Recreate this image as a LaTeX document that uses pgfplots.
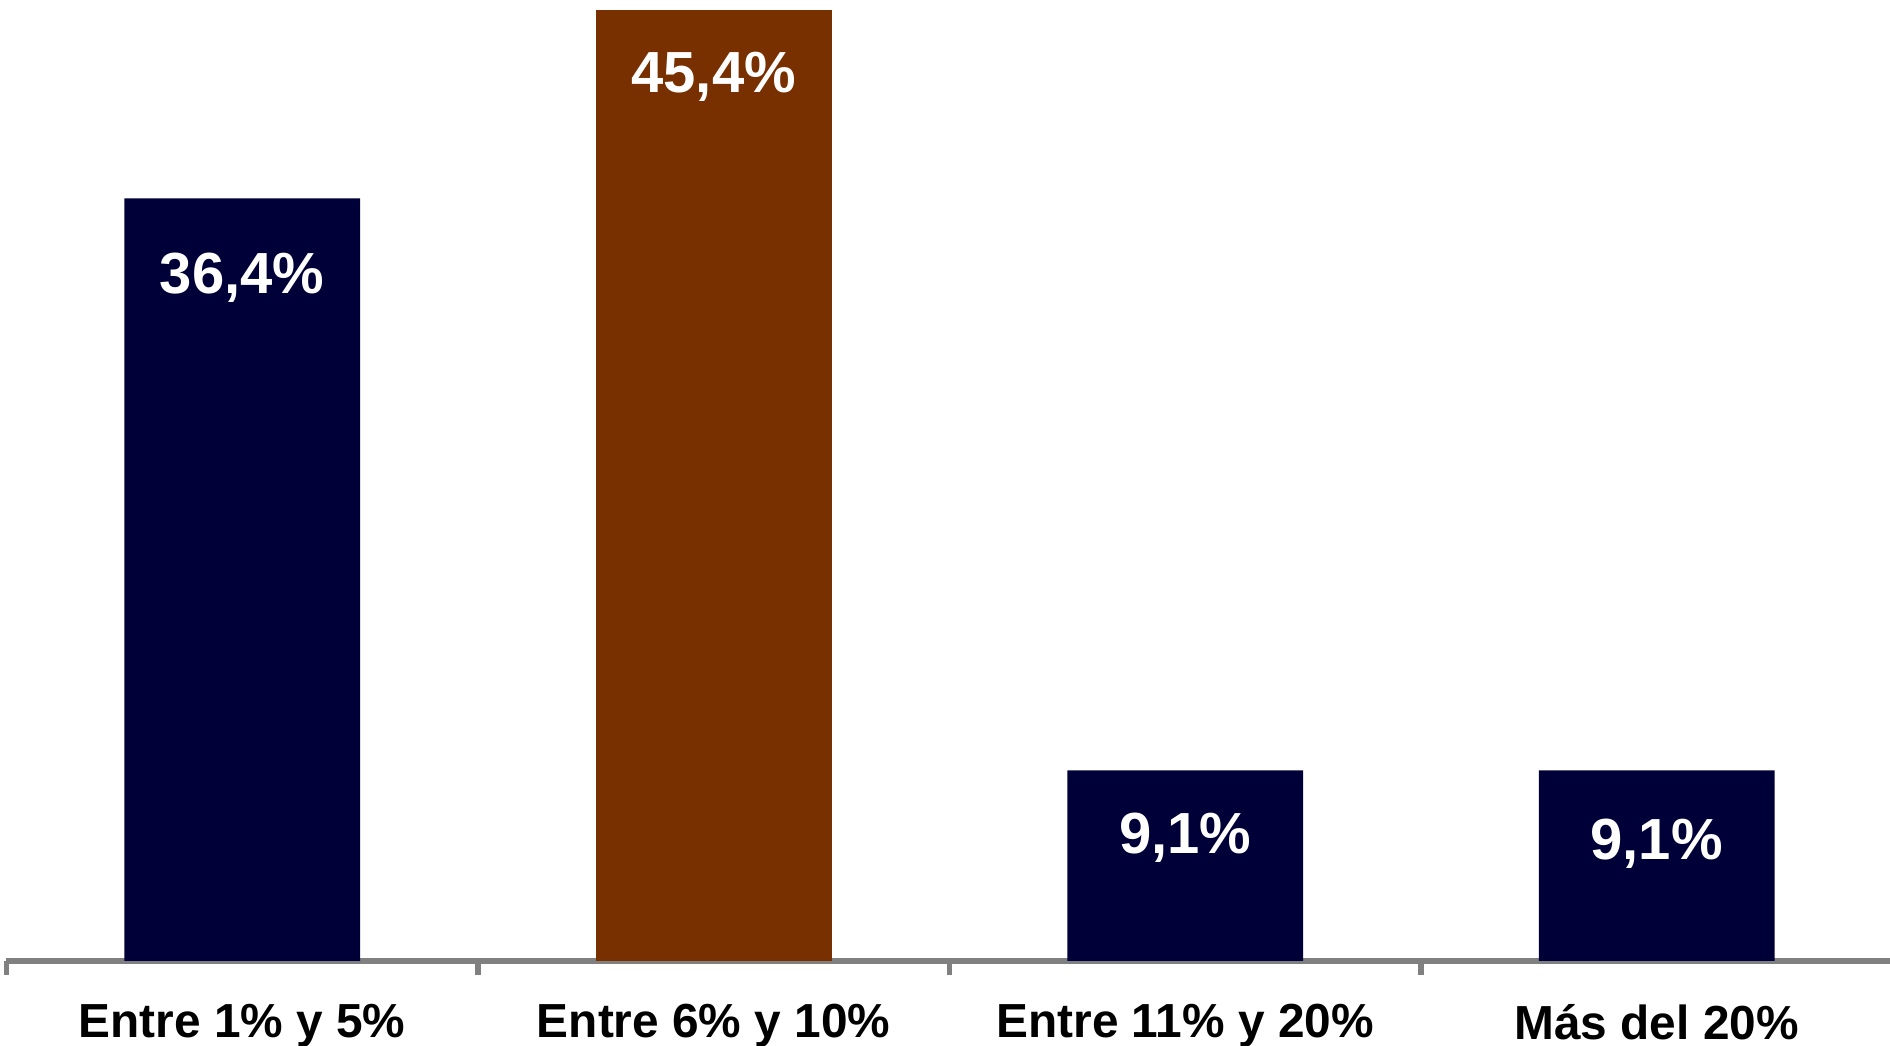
\documentclass[border=0pt]{standalone}
\usepackage{pgfplots}
\pgfplotsset{compat=1.18}
\usepackage{fontspec}
\setmainfont{Liberation Sans}
\definecolor{navyb}{RGB}{0,0,56}
\definecolor{brownb}{RGB}{120,48,0}
\definecolor{axgray}{RGB}{128,128,128}
\begin{document}
\begin{tikzpicture}
\begin{axis}[
  name=ax,
  at={(0.64mm,0)}, anchor=south west,
  scale only axis,
  width=188.6mm, height=96.1mm,
  xmin=-0.5, xmax=3.5,
  ymin=0, ymax=45.87,
  axis x line=bottom, axis y line=none,
  axis line style={-, axgray, line width=1.5pt},
  xtick={0,1,2,3},
  xticklabels={Entre 1\% y 5\%, Entre 6\% y 10\%, Entre 11\% y 20\%, Más del 20\%},
  major tick length=0pt,
  xticklabel style={font=\fontsize{13.6}{15}\selectfont\bfseries, anchor=north, yshift=-3.1mm, text=black},
  extra x ticks={-0.5,0.5,1.5,2.5,3.5},
  extra x tick labels={},
  extra x tick style={major tick length=1.4mm, tick align=outside, tick style={axgray, line width=1.5pt}},
  ytick=\empty,
  clip=false,
]
\addplot[ybar, bar width=0.5, fill=navyb, draw=none] coordinates {(0,36.4) (2,9.1) (3,9.1)};
\addplot[ybar, bar width=0.5, fill=brownb, draw=none] coordinates {(1,45.4)};
\addplot[only marks, mark=none, point meta=explicit symbolic,
  nodes near coords, nodes near coords align={center},
  every node near coord/.append style={font=\fontsize{16.5}{18}\selectfont\bfseries, text=white, anchor=center}]
  coordinates {(0,32.6)[36,4\%] (1,42.2)[45,4\%] (2,5.9)[9,1\%] (3,5.6)[9,1\%]};
\end{axis}
\pgfresetboundingbox
\path (0,-8.5mm) rectangle (189mm,96.1mm);
\end{tikzpicture}
\end{document}
